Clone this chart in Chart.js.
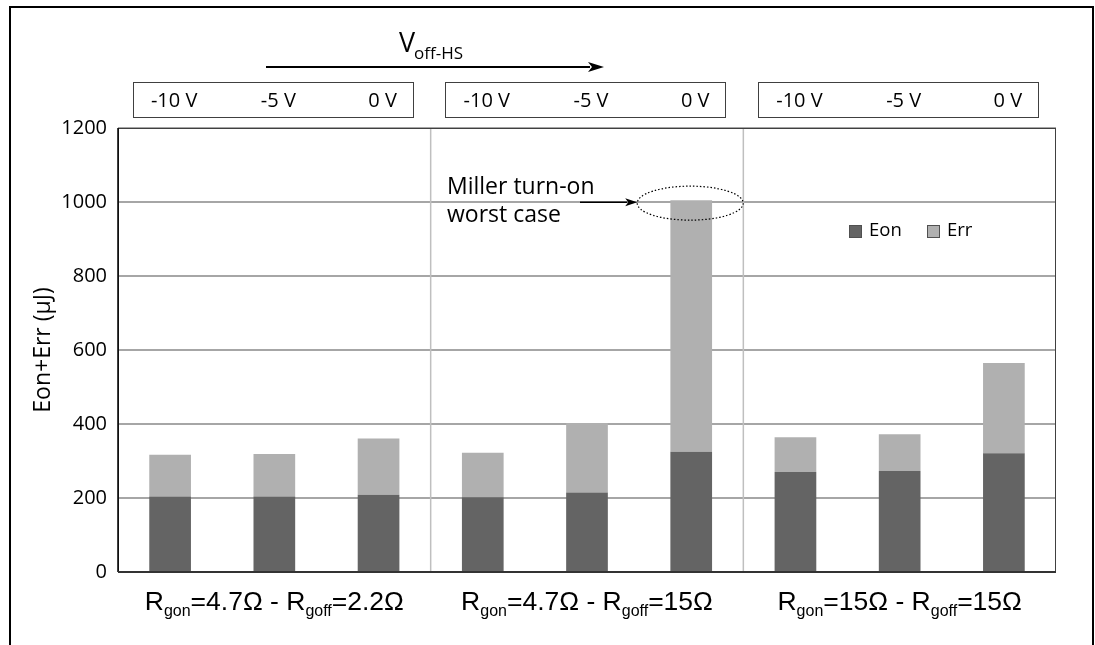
<!DOCTYPE html>
<html>
<head>
<meta charset="utf-8">
<title>Eon+Err</title>
<script src="https://cdn.jsdelivr.net/npm/chart.js@4.4.1/dist/chart.umd.min.js"></script>
<style>
  html, body { margin: 0; padding: 0; background: #fff; }
  #chart { display: block; }
</style>
</head>
<body>
<canvas id="chart" width="1095" height="645"></canvas>
<script>
// gate-off voltage per bar, three resistor combinations of three bars each
const voltages = ['-10 V', '-5 V', '0 V', '-10 V', '-5 V', '0 V', '-10 V', '-5 V', '0 V'];
const groups = ['R_{gon}=4.7Ω - R_{goff}=2.2Ω', 'R_{gon}=4.7Ω - R_{goff}=15Ω', 'R_{gon}=15Ω - R_{goff}=15Ω'];
const eon = [204, 204, 209, 202, 215, 325, 270, 273, 321];
const err = [113, 115, 152, 120, 188, 680, 94, 99, 244];
const yTicks = [0, 200, 400, 600, 800, 1000, 1200];

const EON_COLOR = '#646464';
const ERR_COLOR = '#b0b0b0';
const WORST = 5; // index of the Miller turn-on bar

// draws "text_{sub}" pieces centered on cx
function drawSubText(ctx, str, cx, y, size, subSize, family) {
    const parts = str.split(/_\{([^}]*)\}/);
    let total = 0;
    parts.forEach((p, i) => {
        ctx.font = (i % 2 ? subSize : size) + 'px ' + family;
        total += ctx.measureText(p).width;
    });
    let x = cx - total / 2;
    ctx.textAlign = 'left';
    ctx.textBaseline = 'alphabetic';
    parts.forEach((p, i) => {
        const sub = i % 2 === 1;
        ctx.font = (sub ? subSize : size) + 'px ' + family;
        ctx.fillText(p, x, sub ? y + subSize * 0.4 : y);
        x += ctx.measureText(p).width;
    });
}

function arrow(ctx, x1, y, x2, head, half) {
    ctx.beginPath();
    ctx.moveTo(x1, y);
    ctx.lineTo(x2 - head + 2, y);
    ctx.stroke();
    ctx.beginPath();
    ctx.moveTo(x2, y);
    ctx.lineTo(x2 - head, y - half);
    ctx.lineTo(x2 - head * 0.75, y);
    ctx.lineTo(x2 - head, y + half);
    ctx.closePath();
    ctx.fill();
}

const decorations = {
    id: 'decorations',
    beforeDatasetsDraw(chart) {
        const { ctx, chartArea: a, scales: { x } } = chart;
        ctx.save();
        // group separators
        ctx.strokeStyle = '#bfbfbf';
        ctx.lineWidth = 1.5;
        [3, 6].forEach(i => {
            const px = (x.getPixelForValue(i - 1) + x.getPixelForValue(i)) / 2;
            ctx.beginPath();
            ctx.moveTo(px, a.top);
            ctx.lineTo(px, a.bottom);
            ctx.stroke();
        });
        ctx.restore();
    },
    afterDraw(chart) {
        const { ctx, chartArea: a, scales: { x, y } } = chart;
        ctx.save();

        // plot box
        ctx.strokeStyle = '#404040';
        ctx.lineWidth = 1;
        ctx.strokeRect(a.left + 0.5, a.top + 0.5, a.right - a.left - 1, a.bottom - a.top);
        ctx.strokeStyle = '#000';
        ctx.lineWidth = 1.5;
        ctx.beginPath();
        ctx.moveTo(a.left, a.top);
        ctx.lineTo(a.left, a.bottom);
        ctx.stroke();
        ctx.strokeStyle = '#333';
        ctx.lineWidth = 2;
        ctx.beginPath();
        ctx.moveTo(a.left, a.bottom);
        ctx.lineTo(a.right, a.bottom);
        ctx.stroke();

        // outer frame
        ctx.strokeStyle = '#000';
        ctx.lineWidth = 2;
        ctx.strokeRect(10, 7, 1083, 700);

        // y axis title
        ctx.fillStyle = '#000';
        ctx.save();
        ctx.translate(43, (a.top + a.bottom) / 2);
        ctx.rotate(-Math.PI / 2);
        ctx.font = '23px "Open Sans"';
        ctx.textAlign = 'center';
        ctx.textBaseline = 'middle';
        ctx.fillText('Eon+Err (µJ)', 0, 0);
        ctx.restore();

        // voltage boxes above the plot
        for (let g = 0; g < groups.length; g++) {
            const left = x.getPixelForValue(g * 3) - 37.5;
            const right = x.getPixelForValue(g * 3 + 2) + 34.5;
            ctx.strokeStyle = '#404040';
            ctx.lineWidth = 1;
            ctx.strokeRect(Math.round(left) + 0.5, 82.5, Math.round(right - left), 35);
        }
        ctx.font = '20px "Open Sans"';
        ctx.textAlign = 'center';
        ctx.textBaseline = 'middle';
        voltages.forEach((v, i) => {
            ctx.fillText(v, x.getPixelForValue(i) + 4, 101);
        });

        // V_off-HS sweep arrow
        ctx.fillStyle = '#000';
        ctx.strokeStyle = '#000';
        ctx.lineWidth = 2;
        arrow(ctx, 266, 67, 604, 16, 5);
        ctx.textAlign = 'left';
        ctx.textBaseline = 'alphabetic';
        ctx.font = '27px "Open Sans"';
        ctx.fillText('V', 399, 52);
        const vw = ctx.measureText('V').width;
        ctx.font = '17px "Open Sans"';
        ctx.fillText('off-HS', 399 + vw - 1, 59);

        // resistor group labels under the plot
        ctx.fillStyle = '#000';
        groups.forEach((g, i) => {
            drawSubText(ctx, g, x.getPixelForValue(i * 3 + 1), 610, 26.5, 16, '"Liberation Sans", Arial, sans-serif');
        });

        // Miller turn-on annotation
        const wx = x.getPixelForValue(WORST);
        const wy = y.getPixelForValue(eon[WORST] + err[WORST]) + 3;
        ctx.setLineDash([1.5, 2]);
        ctx.lineWidth = 1.2;
        ctx.beginPath();
        ctx.ellipse(wx - 1, wy, 53, 17, 0, 0, Math.PI * 2);
        ctx.stroke();
        ctx.setLineDash([]);
        ctx.lineWidth = 1.5;
        arrow(ctx, 580, wy - 1, wx - 54, 12, 4);
        ctx.font = '23px "Open Sans"';
        ctx.textAlign = 'left';
        ctx.fillText('Miller turn-on', 447, 194);
        ctx.fillText('worst case', 447, 222);

        // legend
        const items = chart.data.datasets;
        const lx = [849, 927];
        ctx.font = '18.5px "Open Sans"';
        ctx.textBaseline = 'middle';
        items.forEach((d, i) => {
            ctx.fillStyle = d.backgroundColor;
            ctx.fillRect(lx[i], 225, 12, 12);
            ctx.strokeStyle = '#505050';
            ctx.lineWidth = 1;
            ctx.strokeRect(lx[i] + 0.5, 225.5, 12, 12);
            ctx.fillStyle = '#000';
            ctx.fillText(d.label, lx[i] + 20, 231);
        });

        ctx.restore();
    }
};

new Chart(document.getElementById('chart'), {
    type: 'bar',
    data: {
        labels: voltages,
        datasets: [
            { label: 'Eon', data: eon, backgroundColor: EON_COLOR },
            { label: 'Err', data: err, backgroundColor: ERR_COLOR }
        ]
    },
    options: {
        responsive: false,
        animation: false,
        devicePixelRatio: 1,
        layout: { padding: { top: 128, right: 39, bottom: 73, left: 0 } },
        datasets: { bar: { categoryPercentage: 1, barPercentage: 0.4 } },
        plugins: { legend: { display: false }, tooltip: { enabled: false } },
        scales: {
            x: { stacked: true, display: false },
            y: {
                stacked: true,
                min: 0,
                max: 1200,
                afterFit(scale) { scale.width = 118; },
                afterBuildTicks(scale) { scale.ticks = yTicks.map(v => ({ value: v })); },
                border: { display: false },
                grid: { color: '#a6a6a6', lineWidth: 2, drawTicks: false },
                ticks: {
                    padding: 11,
                    color: '#000',
                    font: { family: 'Open Sans', size: 20 },
                    callback: v => String(v)
                }
            }
        }
    },
    plugins: [decorations]
});
</script>
</body>
</html>
